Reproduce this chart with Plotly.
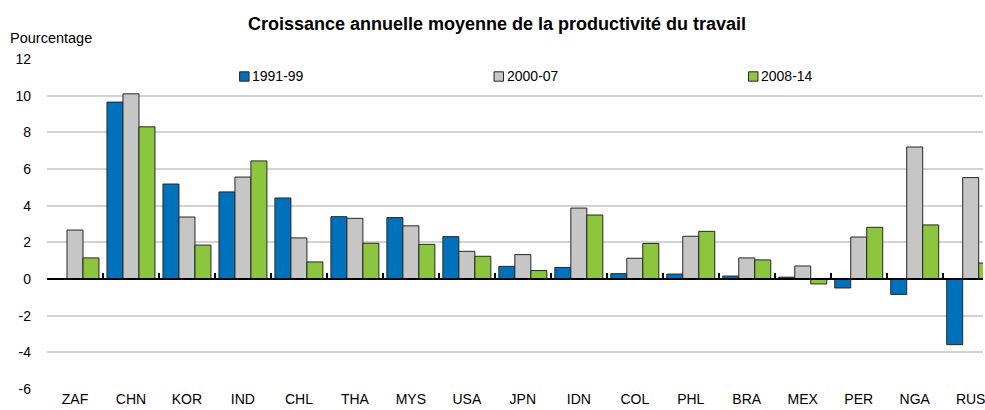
import plotly.graph_objects as go

categories = ["ZAF", "CHN", "KOR", "IND", "CHL", "THA", "MYS", "USA", "JPN",
              "IDN", "COL", "PHL", "BRA", "MEX", "PER", "NGA", "RUS"]
series_names = ["1991-99", "2000-07", "2008-14"]
v_1991_99 = [None, 9.65, 5.18, 4.75, 4.42, 3.40, 3.35, 2.31, 0.69,
             0.63, 0.29, 0.27, 0.16, 0.10, -0.49, -0.84, -3.58]
v_2000_07 = [2.67, 10.10, 3.38, 5.56, 2.24, 3.31, 2.90, 1.51, 1.33,
             3.87, 1.13, 2.33, 1.15, 0.71, 2.29, 7.20, 5.53]
v_2008_14 = [1.15, 8.30, 1.85, 6.44, 0.93, 1.95, 1.89, 1.24, 0.46,
             3.49, 1.94, 2.60, 1.04, -0.27, 2.82, 2.95, 0.87]
y_ticks = [-6, -4, -2, 0, 2, 4, 6, 8, 10, 12]
y_tick_labels = ["-6", "-4", "-2", "0", "2", "4", "6", "8", "10", "12"]

colors = ["#0072BB", "#C6C6C6", "#8CC63F"]
values = [v_1991_99, v_2000_07, v_2008_14]
FONT = "Liberation Sans, Arial, sans-serif"

# body margin is removed in the page, so the figure fills the window
W, H = 985, 410
ML, MT, PW, PH = 47, 59, 938, 330
MB = H - MT - PH

fig = go.Figure()
for name, vals, col in zip(series_names, values, colors):
    fig.add_trace(go.Bar(
        x=categories, y=vals, name=name, marker_color=col,
        marker_line_color="#262626", marker_line_width=1,
        showlegend=False, xaxis="x", yaxis="y",
    ))

# dummy trace to carry the baseline axis with boundary ticks at y=0
fig.add_trace(go.Scatter(x=categories, y=[None] * len(categories), xaxis="x2",
                         yaxis="y", showlegend=False, hoverinfo="skip",
                         mode="markers"))

xr = [-0.5, 16.22]
fig.update_layout(
    width=W, height=H,
    margin=dict(l=ML, r=0, t=MT, b=MB, pad=0),
    paper_bgcolor="white", plot_bgcolor="white",
    barmode="group", bargap=0.143, bargroupgap=0,
    font=dict(family=FONT, size=14, color="#000000"),
    hovermode=False,
    title=dict(text="<b>Croissance annuelle moyenne de la productivité du travail</b>",
               xref="container", yref="container", x=497 / W,
               y=1 - 24 / H,
               xanchor="center", yanchor="middle",
               font=dict(family=FONT, size=18, color="#000000")),
    xaxis=dict(type="category", range=xr, showgrid=False, showline=False,
               ticks="", tickfont=dict(size=14), zeroline=False,
               fixedrange=True),
    xaxis2=dict(type="category", overlaying="x", anchor="free", position=1 / 3,
                side="bottom", range=xr, showgrid=False, showline=True,
                linecolor="#000000", linewidth=1.5, ticks="inside",
                tickson="boundaries", ticklen=5, tickwidth=1.5,
                tickcolor="#000000", showticklabels=False, zeroline=False),
    yaxis=dict(range=[-6, 12], tickmode="array", tickvals=y_ticks,
               ticktext=y_tick_labels, showgrid=True,
               gridcolor="#D3D3D3", gridwidth=1.5, zeroline=False,
               showline=False, ticks="", ticklabelstandoff=15,
               tickfont=dict(size=14)),
)

fig.add_annotation(text="Pourcentage", xref="paper", yref="paper",
                   x=(8 - 47) / PW, y=1 + (59 - 38) / PH,
                   xanchor="left", yanchor="middle", showarrow=False,
                   font=dict(size=14.5))

# legend (manual, to reproduce the tight square + label layout)
leg_x = [240, 495, 750]
leg_y = 76.5
for name, col, lx in zip(series_names, colors, leg_x):
    x0 = (lx - 47) / PW
    x1 = (lx + 9.5 - 47) / PW
    y0 = 1 - (leg_y + 4.7 - 59) / PH
    y1 = 1 - (leg_y - 4.7 - 59) / PH
    fig.add_shape(type="rect", xref="paper", yref="paper", x0=x0, x1=x1,
                  y0=y0, y1=y1, fillcolor=col,
                  line=dict(color="#262626", width=1))
    fig.add_annotation(text=name, xref="paper", yref="paper",
                       x=(lx + 10.5 - 47) / PW, y=1 - (leg_y - 59) / PH,
                       xanchor="left", yanchor="middle", showarrow=False,
                       font=dict(size=14))

# remove the default page margin so the 985x410 figure fills the window
fig.write_html("out.html",
               config={"displayModeBar": False},
               post_script="document.body.style.margin='0';"
                           "document.body.style.overflow='hidden';")
